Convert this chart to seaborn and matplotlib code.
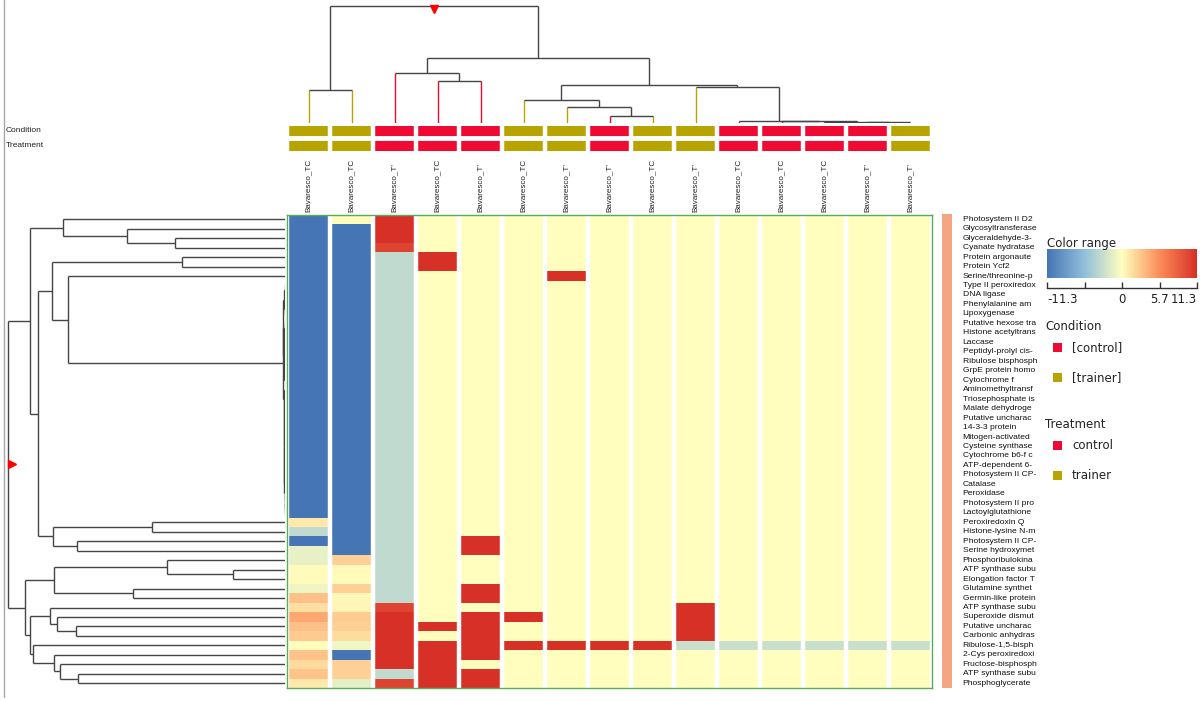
import numpy as np
import pandas as pd
import matplotlib
matplotlib.use("Agg")
import matplotlib.pyplot as plt
import seaborn as sns
from matplotlib.colors import LinearSegmentedColormap, ListedColormap
from matplotlib.patches import Rectangle

sns.set_theme(style="white")
plt.rcParams["font.family"] = ["Liberation Sans", "DejaVu Sans"]

# ---------------- data ----------------
samples = ["Bavaresco_TC", "Bavaresco_TC", "Bavaresco_T'", "Bavaresco_TC", "Bavaresco_T'",
           "Bavaresco_TC", "Bavaresco_T'", "Bavaresco_T'", "Bavaresco_TC", "Bavaresco_T'",
           "Bavaresco_TC", "Bavaresco_TC", "Bavaresco_TC", "Bavaresco_T'", "Bavaresco_T'"]
condition = ["trainer", "trainer", "control", "control", "control", "trainer", "trainer", "control",
             "trainer", "trainer", "control", "control", "control", "control", "trainer"]
treatment = ["trainer", "trainer", "control", "control", "control", "trainer", "trainer", "control",
             "trainer", "trainer", "control", "control", "control", "control", "trainer"]
groups = ["control", "trainer"]

proteins = ["Photosystem II D2", "Glycosyltransferase", "Glyceraldehyde-3-", "Cyanate hydratase",
            "Protein argonaute", "Protein Ycf2", "Serine/threonine-p", "Type II peroxiredox",
            "DNA ligase", "Phenylalanine am", "Lipoxygenase", "Putative hexose tra",
            "Histone acetyltrans", "Laccase", "Peptidyl-prolyl cis-", "Ribulose bisphosph",
            "GrpE protein homo", "Cytochrome f", "Aminomethyltransf", "Triosephosphate is",
            "Malate dehydroge", "Putative uncharac", "14-3-3 protein", "Mitogen-activated",
            "Cysteine synthase", "Cytochrome b6-f c", "ATP-dependent 6-", "Photosystem II CP-",
            "Catalase", "Peroxidase", "Photosystem II pro", "Lactoylglutathione",
            "Peroxiredoxin Q", "Histone-lysine N-m", "Photosystem II CP-", "Serine hydroxymet",
            "Phosphoribulokina", "ATP synthase subu", "Elongation factor T", "Glutamine synthet",
            "Germin-like protein", "ATP synthase subu", "Superoxide dismut", "Putative uncharac",
            "Carbonic anhydras", "Ribulose-1,5-bisph", "2-Cys peroxiredoxi", "Fructose-bisphosph",
            "ATP synthase subu", "Phosphoglycerate"]

# values per sample (column), top row to bottom row
s01 = [-11.3] * 32 + [1.1, -3.2, -11.3, -1.2, -1.2, 0.2, 0.2, -0.8, 3.1, 1.6, 4.3, 3.1, 2.6,
                      0.1, 3.0, 1.8, 3.0, 1.1]
s02 = [0.2] + [-11.3] * 35 + [2.3, 0.3, 0.2, 2.3, 0.4, 0.5, 2.5, 2.3, 1.7, -0.8, -11.3, 2.3, 2.3, -1.4]
s03 = [11.3] * 3 + [10.0] + [-3.2] * 37 + [10.0] + [11.3] * 6 + [-3.2, 10.0]
s04 = [0] * 4 + [11.3] * 2 + [0] * 37 + [11.3, 0] + [11.3] * 5
s05 = [0] * 34 + [11.3] * 2 + [0] * 3 + [11.3] * 2 + [0] + [11.3] * 5 + [0] + [11.3] * 2
s06 = [0] * 42 + [11.3, 0, 0, 11.3] + [0] * 4
s07 = [0] * 6 + [11.3] + [0] * 38 + [11.3] + [0] * 4
s08 = [0] * 45 + [11.3] + [0] * 4
s09 = [0] * 45 + [11.3] + [0] * 4
s10 = [0] * 41 + [11.3] * 4 + [-2.8] + [0] * 4
s11 = [0] * 45 + [-2.8] + [0] * 4
s12 = [0] * 45 + [-2.8] + [0] * 4
s13 = [0] * 45 + [-2.8] + [0] * 4
s14 = [0] * 45 + [-2.8] + [0] * 4
s15 = [0] * 45 + [-2.8] + [0] * 4
columns = [s01, s02, s03, s04, s05, s06, s07, s08, s09, s10, s11, s12, s13, s14, s15]

# dendrograms: [left, right, merge height]; leaves are display indices
col_tree = [[0, 1, 33],
            [[2, [3, 4, 42], 50],
             [[5, [6, [7, 8, 7], 16], 23],
              [9, [10, [11, [12, [13, 14, 1.2], 1.4], 1.6], 1.8], 36], 38.3], 65], 117]

flat_a = [[[7, 8, 0.5], [9, 10, 0.5], 1.0],
          [[[11, 12, 0.5], [13, 14, 0.5], 1.0], [[15, 16, 0.5], 17, 1.0], 1.4], 1.8]
flat_b = [18, [19, [20, [21, [22, [23, [24, [25, [26, [27, [28, [29, [30, 31, 0.3], 0.4], 0.5],
          0.6], 0.7], 0.8], 0.9], 1.0], 1.1], 1.2], 1.3], 1.4], 1.5]
row_upper = [[0, [1, [2, 3, 110], 158.3], 222.3],
             [[[4, 5, 103.3], [6, [flat_a, flat_b, 2.3], 217.3], 233.3],
              [[32, 33, 133.3], [34, 35, 208.3], 231.7], 246.7], 255]
row_lower = [[[36, [37, 38, 51.7], 118.3], [39, 40, 151.7], 230.7],
             [[41, [42, [43, 44, 209], 228.3], 235],
              [45, [46, [47, [48, 49, 207.3], 225], 230.7], 252.3], 255], 260]
row_tree = [row_upper, row_lower, 276.7]

# ---------------- style ----------------
c_control = "#ee0a32"
c_trainer = "#b8a400"
group_colors = {"control": c_control, "trainer": c_trainer}
line_grey = "#454545"
cmap = LinearSegmentedColormap.from_list(
    "rng", ["#4575b4", "#91bfdb", "#ffffbf", "#fc8d59", "#d73027"])

W, H = 1200, 701
fig = plt.figure(figsize=(12, 7.01), dpi=100, facecolor="white")


def add_ax(x0, y0, x1, y1):
    return fig.add_axes([x0 / W, 1 - y1 / H, (x1 - x0) / W, (y1 - y0) / H])


def draw_tree(ax, node, orient, leaf_col=None):
    if isinstance(node, int):
        return node + 0.5, 0.0
    left, right, h = node
    pl, hl = draw_tree(ax, left, orient, leaf_col)
    pr, hr = draw_tree(ax, right, orient, leaf_col)
    for child, p, hc in ((left, pl, hl), (right, pr, hr)):
        col = leaf_col[child] if (leaf_col is not None and isinstance(child, int)) else line_grey
        if orient == "top":
            ax.plot([p, p], [hc, h], color=col, lw=1.0, solid_capstyle="butt")
        else:
            ax.plot([hc, h], [p, p], color=col, lw=1.0, solid_capstyle="butt")
    if orient == "top":
        ax.plot([pl, pr], [h, h], color=line_grey, lw=1.0, solid_capstyle="butt")
    else:
        ax.plot([h, h], [pl, pr], color=line_grey, lw=1.0, solid_capstyle="butt")
    return (pl + pr) / 2, h


# ---------------- heatmap ----------------
data = pd.DataFrame(np.array(columns).T, index=range(len(proteins)), columns=range(len(samples)))
ax_hm = add_ax(287, 214.5, 932, 688)
cax = add_ax(1047, 249, 1197, 278)
sns.heatmap(data, ax=ax_hm, cmap=cmap, vmin=-11.3, vmax=11.3, cbar_ax=cax,
            cbar_kws={"orientation": "horizontal"}, xticklabels=False, yticklabels=False,
            linewidths=0)
for x in range(len(samples) + 1):
    ax_hm.axvline(x, color="white", lw=3.2)
for sp in ax_hm.spines.values():
    sp.set_visible(True)
    sp.set_color("#55b055")
    sp.set_linewidth(1.0)
ax_hm.set_xlabel("")
ax_hm.set_ylabel("")
for i, s in enumerate(samples):
    ax_hm.text(i + 0.5, -0.3, s, rotation=90, ha="center", va="bottom", fontsize=5.8,
               color="#222222", clip_on=False)

# colorbar styling
cbar = ax_hm.collections[0].colorbar
cbar.outline.set_visible(False)
cbar.set_ticks([-11.3, -5.65, 0, 5.65, 11.3])
cbar.set_ticklabels(["-11.3", "", "0", "5.7", "11.3"])
cax.xaxis.set_ticks_position("bottom")
cax.spines["bottom"].set_visible(True)
cax.spines["bottom"].set_position(("outward", 7))
cax.spines["bottom"].set_color("#333333")
cax.spines["bottom"].set_linewidth(1.0)
cax.tick_params(axis="x", direction="in", length=4.5, width=1, color="#333333",
                labelsize=8.5, pad=4, labelcolor="#222222", bottom=True)
for lab in cax.get_xticklabels():
    lab.set_family("DejaVu Sans")
tl = cax.get_xticklabels()
tl[0].set_horizontalalignment("left")
tl[-1].set_horizontalalignment("right")

# ---------------- annotation rows ----------------
ax_ann = add_ax(287, 125.5, 932, 150.5)
codes = pd.DataFrame([[groups.index(c) for c in condition], [groups.index(t) for t in treatment]])
sns.heatmap(codes, ax=ax_ann, cmap=ListedColormap([c_control, c_trainer]), vmin=-0.5, vmax=1.5,
            cbar=False, xticklabels=False, yticklabels=False)
for x in range(len(samples) + 1):
    ax_ann.axvline(x, color="white", lw=3.2)
ax_ann.axhline(1, color="white", lw=3.5)
ax_ann.set_xlabel("")
ax_ann.set_ylabel("")

# ---------------- column dendrogram ----------------
ax_cd = add_ax(287, 3, 932, 123)
ax_cd.set_xlim(0, len(samples))
ax_cd.set_ylim(0, 120)
rp, rh = draw_tree(ax_cd, col_tree, "top", [group_colors[c] for c in condition])
ax_cd.plot(rp, rh - 3.2, marker="v", color="red", ms=6, clip_on=False)
ax_cd.axis("off")

# ---------------- row dendrogram ----------------
ax_rd = add_ax(3, 214.5, 285, 688)
ax_rd.set_xlim(282, 0)
ax_rd.set_ylim(len(proteins), 0)
rp, rh = draw_tree(ax_rd, row_tree, "left")
ax_rd.plot(rh - 3.2, rp, marker=">", color="red", ms=6, clip_on=False)
ax_rd.axis("off")

# ---------------- row labels ----------------
ax_lab = add_ax(961, 214.5, 1040, 688)
ax_lab.set_xlim(0, 1)
ax_lab.set_ylim(len(proteins), 0)
ax_lab.axis("off")
for i, p in enumerate(proteins):
    ax_lab.text(0.02, i + 0.5, p, fontsize=6.1, va="center", ha="left", color="#111111",
                clip_on=True)

# ---------------- overlay: frame, side bar, legends ----------------
ov = fig.add_axes([0, 0, 1, 1])
ov.set_xlim(0, W)
ov.set_ylim(H, 0)
ov.axis("off")
ov.patch.set_alpha(0)
ov.plot([4, 4], [0, 697], color="#a8a8a8", lw=1.0)
ov.add_patch(Rectangle((942, 213.5), 9.5, 474.5, color="#f4a582", lw=0))
ov.text(6, 131, "Condition", fontsize=6, va="center", ha="left", color="#222222")
ov.text(6, 145.5, "Treatment", fontsize=6, va="center", ha="left", color="#222222")

lf = "DejaVu Sans"
ov.text(1047, 243, "Color range", fontsize=8.5, va="center", ha="left", family=lf, color="#222222")
ov.text(1045, 326, "Condition", fontsize=8.5, va="center", ha="left", family=lf, color="#222222")
for j, g in enumerate(groups):
    y = 347.5 + 30 * j
    ov.add_patch(Rectangle((1053, y - 4.5), 9, 9, color=group_colors[g], lw=0))
    ov.text(1072, y, "[" + g + "]", fontsize=8.5, va="center", ha="left", family=lf, color="#222222")
ov.text(1045, 425, "Treatment", fontsize=8.5, va="center", ha="left", family=lf, color="#222222")
for j, g in enumerate(groups):
    y = 445.5 + 30 * j
    ov.add_patch(Rectangle((1053, y - 4.5), 9, 9, color=group_colors[g], lw=0))
    ov.text(1072, y, g, fontsize=8.5, va="center", ha="left", family=lf, color="#222222")

fig.savefig("out.png", dpi=100, facecolor="white")
